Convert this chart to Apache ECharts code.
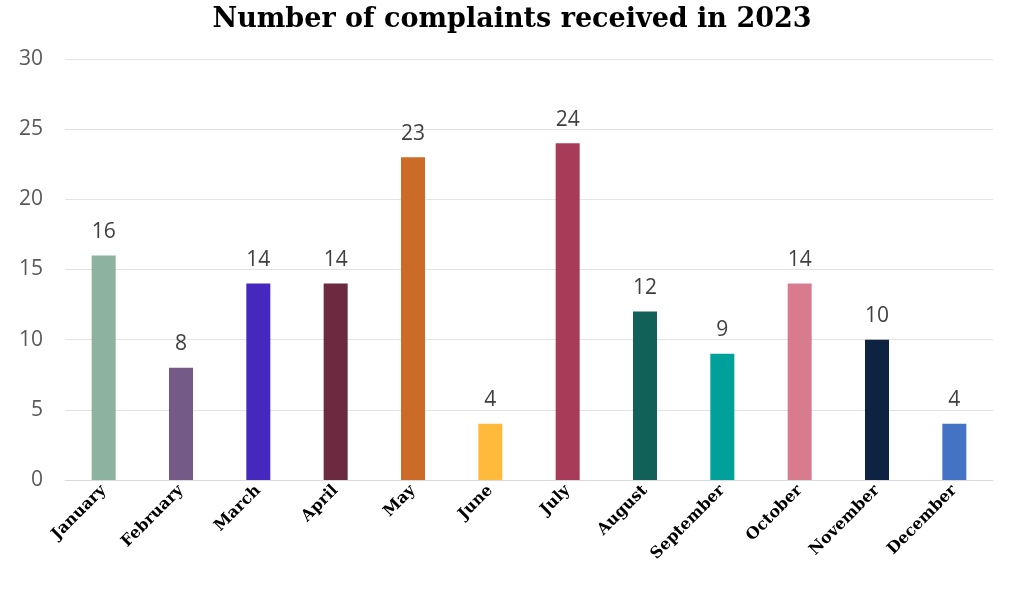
<!DOCTYPE html>
<html><head><meta charset="utf-8">
<script src="https://cdn.jsdelivr.net/npm/echarts@6/dist/echarts.min.js"></script>
<style>html,body{margin:0;padding:0;background:#fff}#c{width:1024px;height:613px}</style>
</head><body><div id="c"></div>
<script>
const categories = ["January","February","March","April","May","June","July","August","September","October","November","December"];
const values = [16, 8, 14, 14, 23, 4, 24, 12, 9, 14, 10, 4];
const barColors = ["#8db3a0","#735a87","#4628be","#6b2a3f","#cc6a28","#ffb93b","#a83b58","#116158","#00a19a","#d97b8e","#0e2242","#4472c4"];
const yTicks = [0, 5, 10, 15, 20, 25, 30];

const chart = echarts.init(document.getElementById('c'));
chart.setOption({
  animation: false,
  title: {
    text: 'Number of complaints received in 2023',
    left: 'center', top: 1,
    textStyle: { fontFamily: 'DejaVu Serif', fontWeight: 'bold', fontSize: 27, color: '#000' }
  },
  grid: { left: 65, right: 31, top: 59, bottom: 133 },
  xAxis: {
    type: 'category', data: categories,
    axisLine: { lineStyle: { color: '#d9d9d9', width: 1 } },
    axisTick: { show: false },
    axisLabel: { rotate: 45, interval: 0, margin: 8, fontFamily: 'DejaVu Serif', fontWeight: 'bold', fontSize: 16, color: '#000' }
  },
  yAxis: {
    type: 'value', min: yTicks[0], max: yTicks[yTicks.length-1], interval: 5,
    axisLine: { show: false }, axisTick: { show: false },
    splitLine: { lineStyle: { color: '#e3e3e3' } },
    axisLabel: { margin: 22, fontFamily: 'Open Sans', fontSize: 21, color: '#595959' }
  },
  series: [{
    type: 'bar', barWidth: 24,
    data: values.map((v, i) => ({ value: v, itemStyle: { color: barColors[i] } })),
    label: { show: true, position: 'top', distance: 13, fontFamily: 'Open Sans', fontSize: 21, color: '#404040' }
  }]
});
</script></body></html>
